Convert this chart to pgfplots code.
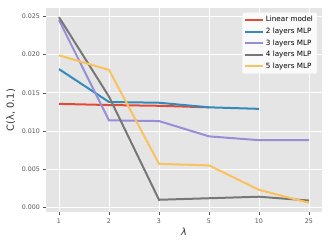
\documentclass[border=0pt]{standalone}
\usepackage{fontspec}
\setmainfont{DejaVu Sans}
\usepackage{pgfplots}
\pgfplotsset{compat=1.18}
\definecolor{bgc}{HTML}{E5E5E5}
\definecolor{cred}{HTML}{E24A33}
\definecolor{cblue}{HTML}{348ABD}
\definecolor{cpurple}{HTML}{988ED5}
\definecolor{cgray}{HTML}{777777}
\definecolor{cyellow}{HTML}{FBC15E}
\definecolor{tickc}{HTML}{555555}
\begin{document}
\begin{tikzpicture}
\begin{axis}[
  scale only axis,
  width=275pt, height=204pt,
  xmin=-0.25, xmax=5.25,
  ymin=-0.0006, ymax=0.0261,
  xtick={0,1,2,3,4,5},
  xticklabels={1,2,3,5,10,25},
  ytick={0,0.005,0.01,0.015,0.02,0.025},
  yticklabel style={/pgf/number format/fixed,/pgf/number format/fixed zerofill,/pgf/number format/precision=3},
  scaled y ticks=false,
  /pgf/number format/assume math mode=true,
  axis background/.style={fill=bgc},
  axis line style={draw=none},
  grid=major,
  major grid style={white, line width=0.8pt},
  tick style={tickc, line width=0.5pt},
  major tick length=3pt,
  tick align=outside,
  xtick pos=bottom, ytick pos=left,
  ticklabel style={font=\fontsize{6.3}{7.5}\selectfont, text=tickc},
  xlabel={\textit{λ}},
  ylabel={C(λ, 0.1)},
  label style={font=\fontsize{9.8}{11}\selectfont, text=tickc!60!black},
  xlabel style={yshift=2pt},
  ylabel style={yshift=0pt},
  legend cell align=left,
  legend style={font=\fontsize{7.2}{8.5}\selectfont, fill=white!92!bgc, draw=white!80!gray, fill opacity=0.9, text opacity=1, rounded corners=1.5pt, row sep=0.6pt, inner sep=2.2pt, at={(0.985,0.98)}, anchor=north east},
  legend image code/.code={\draw[#1, line width=2pt] (0cm,0cm) -- (0.62cm,0cm);},
  every axis plot/.append style={line width=2pt},
]
\addplot[cred] coordinates {(0,0.01355) (1,0.0134) (2,0.0133) (3,0.0131)};
\addlegendentry{Linear model}
\addplot[cblue] coordinates {(0,0.0181) (1,0.0138) (2,0.0137) (3,0.0131) (4,0.0129)};
\addlegendentry{2 layers MLP}
\addplot[cpurple] coordinates {(0,0.0245) (1,0.0114) (2,0.0113) (3,0.0093) (4,0.0088) (5,0.0088)};
\addlegendentry{3 layers MLP}
\addplot[cgray] coordinates {(0,0.0249) (1,0.0145) (2,0.0010) (3,0.0012) (4,0.0014) (5,0.0009)};
\addlegendentry{4 layers MLP}
\addplot[cyellow] coordinates {(0,0.0199) (1,0.0180) (2,0.0057) (3,0.0055) (4,0.0023) (5,0.0006)};
\addlegendentry{5 layers MLP}
\end{axis}
\pgfresetboundingbox
\path ([shift={(-46.5pt,-34pt)}]current axis.south west) rectangle ([shift={(8.5pt,8pt)}]current axis.north east);
\end{tikzpicture}
\end{document}
